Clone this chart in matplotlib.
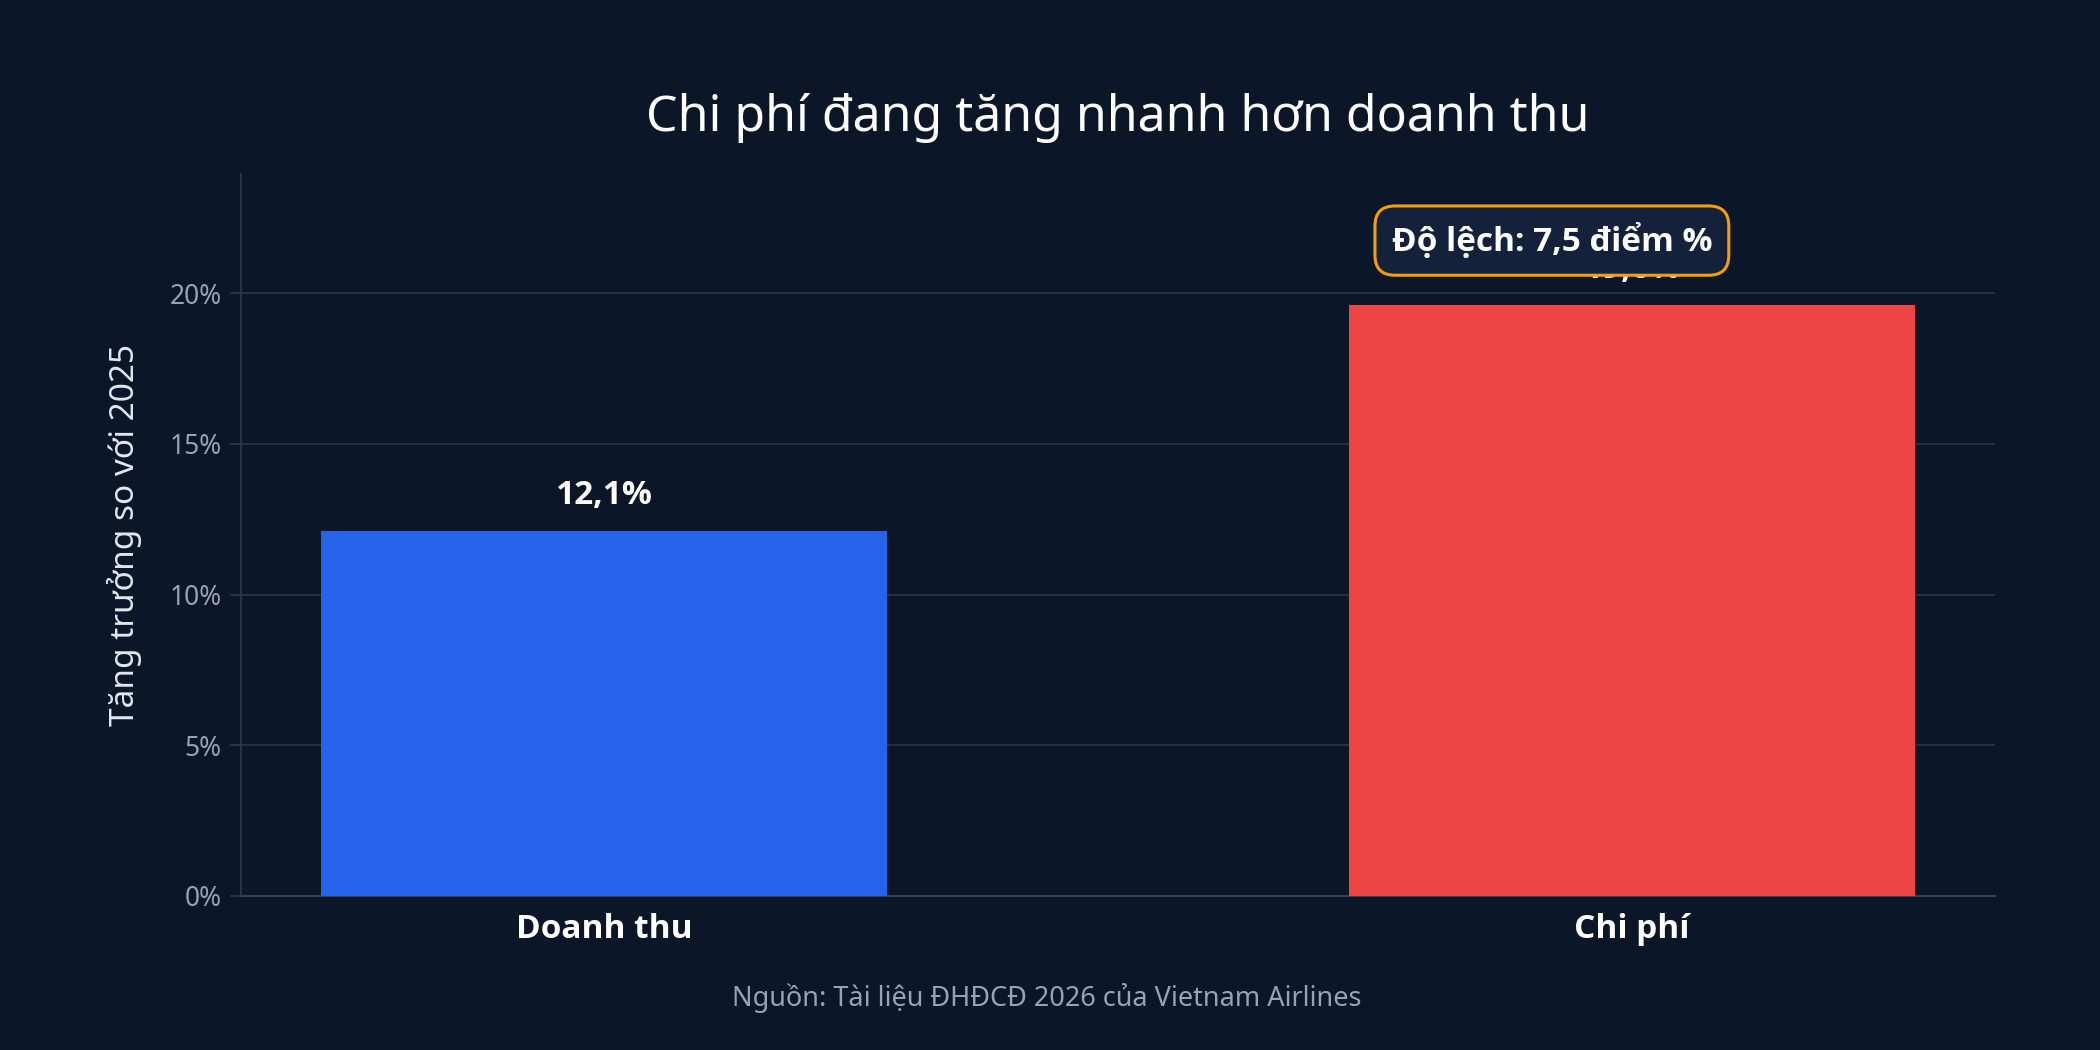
import matplotlib
matplotlib.use("Agg")
import matplotlib.pyplot as plt
from matplotlib.ticker import FuncFormatter

plt.rcParams['font.family'] = ['Noto Sans', 'DejaVu Sans']
BOLD = ['Open Sans', 'Noto Sans', 'DejaVu Sans']

categories = ["Doanh thu", "Chi phí"]
values = [12.1, 19.6]
value_labels = ["12,1%", "19,6%"]
bar_colors = ["#2563eb", "#ef4444"]
yticks = [0, 5, 10, 15, 20]
title = "Chi phí đang tăng nhanh hơn doanh thu"
ylabel = "Tăng trưởng so với 2025"
source = "Nguồn: Tài liệu ĐHĐCĐ 2026 của Vietnam Airlines"
gap_label = "Độ lệch: 7,5 điểm %"

BG = "#0b1628"
fig = plt.figure(figsize=(21, 10.5), dpi=100, facecolor=BG)
ax = fig.add_axes([241/2100, 1 - 896/1050, (1995-241)/2100, (896-174)/1050])
ax.set_facecolor(BG)

x = list(range(len(categories)))
ax.bar(x, values, width=0.55, color=bar_colors, zorder=3)
ax.set_xlim(-0.353, 1.353)
ax.set_ylim(0, 23.96)

for xi, v, lab in zip(x, values, value_labels):
    ax.text(xi, v + 1.2, lab, ha="center", va="center", color="white",
            fontsize=24, fontweight="bold", family=BOLD, zorder=4)

ax.set_yticks(yticks)
ax.yaxis.set_major_formatter(FuncFormatter(lambda v, p: f"{v:.0f}%"))
ax.set_xticks(x)
ax.set_xticklabels(categories, fontsize=24, fontweight="bold", color="white", family=BOLD)
ax.tick_params(axis="y", colors="#94a3b8", labelsize=19, length=8, width=1.2, color="#2c3a50", pad=6)
ax.tick_params(axis="x", length=8, width=1.2, color="#0b1628", pad=4)
for lab in ax.get_yticklabels():
    lab.set_color("#94a3b8")

ax.grid(axis="y", color="#2a3648", linewidth=1.2, zorder=0)
for s in ["top", "right"]:
    ax.spines[s].set_visible(False)
ax.spines["left"].set_color("#2c3a50")
ax.spines["bottom"].set_color("#334155")
ax.spines["left"].set_linewidth(1.2)
ax.spines["bottom"].set_linewidth(1.5)

ax.set_ylabel(ylabel, fontsize=24, color="#e2e8f0", labelpad=20)

ax.annotate(gap_label, xy=(0.922, 21.75), ha="center", va="center",
            fontsize=24, fontweight="bold", family=BOLD, color="white", zorder=6,
            bbox=dict(boxstyle="round,pad=0.5,rounding_size=0.6",
                      facecolor="#13213b", edgecolor="#f59e0b", linewidth=2.2))

fig.text(0.5 + (1118 - 1050) / 2100, 1 - 118/1050, title, ha="center", va="center",
         fontsize=36, color="white")
fig.text(0.5 + (1047 - 1050) / 2100, 1 - 998/1050, source, ha="center", va="center",
         fontsize=19.5, color="#94a3b8")

fig.savefig("out.png", dpi=100, facecolor=BG)
